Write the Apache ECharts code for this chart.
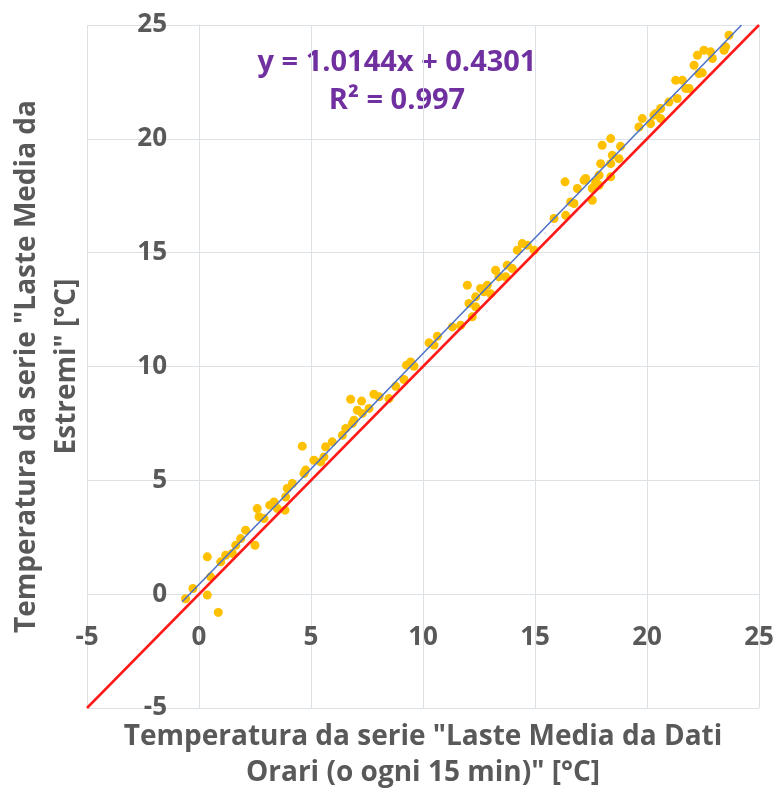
<!DOCTYPE html>
<html>
<head>
<meta charset="utf-8">
<script src="https://cdn.jsdelivr.net/npm/echarts@6/dist/echarts.min.js"></script>
<style>
  html, body { margin: 0; padding: 0; background: #fff; }
  #chart { width: 781px; height: 794px; }
</style>
</head>
<body>
<div id="chart"></div>
<script>
// temperature pairs (x = hourly/15-min series, y = extremes series)
const obsX = [
  -0.6, -0.27, 0.37, 0.86, 0.37, 0.52, 0.97, 1.19, 1.49, 1.64,
  1.86, 2.08, 2.5, 2.6, 2.68, 2.9, 3.16, 3.35, 3.5, 3.84,
  3.87, 3.94, 4.17, 4.61, 4.69, 4.76, 5.13, 5.43, 5.58, 5.65,
  5.95, 6.4, 6.55, 6.85, 6.77, 6.92, 7.07, 7.26, 7.29, 7.59,
  7.81, 8.04, 8.48, 8.78, 9.15, 9.26, 9.45, 9.6, 10.27, 10.49,
  10.64, 11.31, 11.68, 12.05, 12.2, 12.35, 11.98, 12.35, 12.57, 12.87,
  12.72, 13.02, 13.24, 13.39, 13.69, 13.76, 13.99, 14.21, 14.43, 14.66,
  14.96, 15.85, 16.37, 16.59, 16.74, 16.34, 16.89, 17.19, 17.56, 17.63,
  17.71, 17.86, 17.26, 17.56, 17.86, 17.93, 18.0, 18.38, 18.82, 18.45,
  18.38, 18.75, 18.38, 19.64, 19.79, 20.16, 20.31, 20.39, 20.61, 20.61,
  20.98, 21.28, 21.35, 21.58, 21.73, 21.88, 22.1, 22.25, 22.32, 22.47,
  22.54, 22.84, 22.92, 23.44, 23.51, 23.66
];
const obsY = [
  -0.2, 0.25, -0.04, -0.8, 1.64, 0.76, 1.42, 1.71, 1.79, 2.15,
  2.44, 2.81, 2.15, 3.76, 3.4, 3.32, 3.91, 4.05, 3.76, 3.69,
  4.27, 4.64, 4.86, 6.5, 5.3, 5.45, 5.88, 5.81, 6.03, 6.47,
  6.69, 6.98, 7.28, 7.5, 8.56, 7.64, 8.08, 8.48, 7.94, 8.16,
  8.78, 8.67, 8.59, 9.13, 9.43, 10.06, 10.2, 10.01, 11.04, 10.94,
  11.33, 11.74, 11.81, 12.77, 12.18, 12.62, 13.57, 13.06, 13.43, 13.57,
  13.28, 13.2, 14.23, 13.94, 13.94, 14.45, 14.3, 15.11, 15.4, 15.33,
  15.11, 16.5, 16.64, 17.23, 17.16, 18.11, 17.82, 18.18, 17.3, 17.89,
  18.11, 18.4, 18.26, 17.82, 17.96, 18.91, 19.72, 20.01, 19.67, 19.28,
  18.91, 19.13, 18.33, 20.52, 20.89, 20.67, 21.04, 21.11, 20.89, 21.33,
  21.62, 22.57, 21.77, 22.57, 22.21, 22.21, 23.23, 23.67, 22.87, 22.9,
  23.89, 23.82, 23.53, 23.89, 24.04, 24.55
];

// linear fit shown on the chart
const fitSlope = 1.0144;
const fitIntercept = 0.4301;
const fitR2 = 0.997;
const fitRangeX = [-0.75, 24.22];

// 1:1 reference line
const identityRange = [-5, 25];

const axisMin = -5;
const axisMax = 25;
const axisStep = 5;

const xTitle = 'Temperatura da serie "Laste Media da Dati\nOrari (o ogni 15 min)" [°C]';
const yTitle = 'Temperatura da serie "Laste Media da\nEstremi" [°C]';

const points = obsX.map((x, i) => [x, obsY[i]]);
const fitLine = fitRangeX.map(x => [x, fitSlope * x + fitIntercept]);
const identityLine = identityRange.map(v => [v, v]);

const gray = '#595959';
const gridColor = '#DCE1E6';
const fontFamily = '"Open Sans", Lato, sans-serif';

// grid box in px
const gridLeft = 87, gridRight = 22, gridTop = 25, gridBottom = 86;
const W = 781, H = 794;
// axes cross at zero: shift each axis from the grid edge to the 0 position
const xZeroShift = (H - gridTop - gridBottom) * (0 - axisMin) / (axisMax - axisMin);
const yZeroShift = (W - gridLeft - gridRight) * (0 - axisMin) / (axisMax - axisMin);

const chart = echarts.init(document.getElementById('chart'));

function axisBase(name, nameGap, lineHeight, labelMargin, offset) {
  return {
    type: 'value',
    min: axisMin,
    max: axisMax,
    interval: axisStep,
    offset: offset,
    axisLine: { show: true, onZero: false, lineStyle: { color: gridColor, width: 1 } },
    axisTick: { show: false },
    splitLine: { show: true, lineStyle: { color: gridColor, width: 1 } },
    axisLabel: {
      margin: labelMargin,
      color: gray,
      fontSize: 26,
      fontWeight: 'bold',
      fontFamily: fontFamily
    },
    name: name,
    nameLocation: 'middle',
    nameGap: nameGap,
    nameTextStyle: {
      color: gray,
      fontSize: 28,
      fontWeight: 'bold',
      fontFamily: fontFamily,
      lineHeight: lineHeight
    }
  };
}

chart.setOption({
  backgroundColor: '#fff',
  animation: false,
  grid: {
    left: gridLeft, right: gridRight, top: gridTop, bottom: gridBottom,
    containLabel: false,
    outerBoundsMode: 'none'
  },
  xAxis: axisBase(xTitle, 125, 36, 30, -xZeroShift),
  yAxis: axisBase(yTitle, 112, 40, 32, -yZeroShift),
  graphic: [
    {
      type: 'text',
      x: 397, y: 63,
      style: {
        text: 'y = ' + fitSlope.toFixed(4) + 'x + ' + fitIntercept.toFixed(4),
        fill: '#7030A0',
        font: 'bold 29px ' + fontFamily,
        align: 'center',
        verticalAlign: 'middle'
      }
    },
    {
      type: 'text',
      x: 397, y: 101,
      style: {
        text: 'R² = ' + fitR2.toFixed(3),
        fill: '#7030A0',
        font: 'bold 29px ' + fontFamily,
        align: 'center',
        verticalAlign: 'middle'
      }
    }
  ],
  series: [
    {
      type: 'scatter',
      data: points,
      symbolSize: 9,
      itemStyle: { color: '#FFC000', opacity: 1 },
      z: 2
    },
    {
      type: 'line',
      data: identityLine,
      showSymbol: false,
      lineStyle: { color: '#FF1A1A', width: 2.5 },
      z: 3
    },
    {
      type: 'line',
      data: fitLine,
      showSymbol: false,
      lineStyle: { color: '#4A6FC4', width: 1.5 },
      z: 4
    }
  ]
});
</script>
</body>
</html>
